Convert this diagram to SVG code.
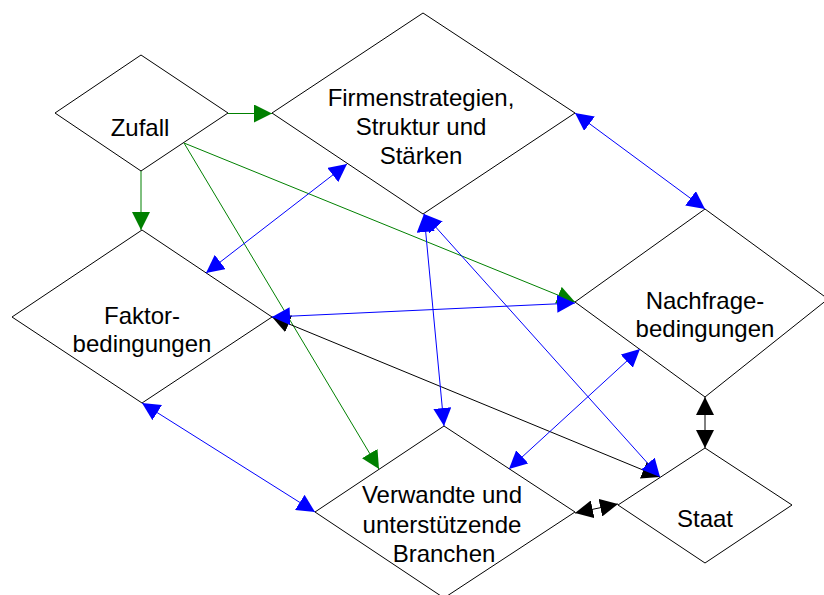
<svg xmlns="http://www.w3.org/2000/svg" width="824" height="595" viewBox="0 0 824 595">
<style>
.node polygon{fill:#fff;stroke:#000;stroke-width:1}
.node text{font-family:"Liberation Sans",Arial,sans-serif;font-size:24px;fill:#000;text-anchor:middle}
.g{stroke:#008000;stroke-width:1;fill:none}
.b{stroke:#0000ff;stroke-width:1;fill:none}
.k{stroke:#000;stroke-width:1;fill:none}
</style>
<defs>
<marker id="ag" markerUnits="userSpaceOnUse" markerWidth="18" markerHeight="18" refX="18" refY="9" orient="auto-start-reverse" viewBox="0 0 18 18"><path d="M0,0 L18,9 L0,18 z" fill="#008000"/></marker>
<marker id="ab" markerUnits="userSpaceOnUse" markerWidth="18" markerHeight="18" refX="18" refY="9" orient="auto-start-reverse" viewBox="0 0 18 18"><path d="M0,0 L18,9 L0,18 z" fill="#0000ff"/></marker>
<marker id="ak" markerUnits="userSpaceOnUse" markerWidth="18" markerHeight="18" refX="18" refY="9" orient="auto-start-reverse" viewBox="0 0 18 18"><path d="M0,0 L18,9 L0,18 z" fill="#000"/></marker>
</defs>
<rect width="824" height="595" fill="#fff"/>
<g id="zufall" class="node">
<polygon points="141,55 228,113 141,171 55,113"/>
<text x="140" y="136">Zufall</text>
</g>
<g id="firmen" class="node">
<polygon points="423,13 575,113 423,214 272,113"/>
<text x="421" y="106">Firmenstrategien,</text>
<text x="421" y="135">Struktur und</text>
<text x="421" y="164">Stärken</text>
</g>
<g id="faktor" class="node">
<polygon points="142,230 272,317 142,403 12,317"/>
<text x="142" y="324">Faktor-</text>
<text x="142" y="352">bedingungen</text>
</g>
<g id="nachfrage" class="node">
<polygon points="705,209 828,299 705,397 575,302"/>
<text x="705" y="309">Nachfrage-</text>
<text x="705" y="337">bedingungen</text>
</g>
<g id="verwandte" class="node">
<polygon points="444,426 575,512 444,598 315,512"/>
<text x="442" y="503">Verwandte und</text>
<text x="442" y="533">unterstützende</text>
<text x="444" y="562">Branchen</text>
</g>
<g id="staat" class="node">
<polygon points="705,448 792,505 705,563 618,505"/>
<text x="705" y="527">Staat</text>
</g>
<g id="connectors">
<line class="g" x1="228" y1="113.5" x2="272" y2="113.5" marker-end="url(#ag)"/>
<line class="g" x1="141" y1="171" x2="141" y2="230" marker-end="url(#ag)"/>
<line class="g" x1="184" y1="143" x2="379" y2="469" marker-end="url(#ag)"/>
<line class="g" x1="184" y1="143" x2="575" y2="302" marker-end="url(#ag)"/>
<line class="b" x1="206" y1="273" x2="347" y2="164" marker-start="url(#ab)" marker-end="url(#ab)"/>
<line class="b" x1="575" y1="113" x2="705" y2="209" marker-start="url(#ab)" marker-end="url(#ab)"/>
<line class="k" x1="272" y1="317" x2="660" y2="477" marker-start="url(#ak)" marker-end="url(#ak)"/>
<line class="b" x1="272" y1="317" x2="575" y2="303" marker-start="url(#ab)" marker-end="url(#ab)"/>
<line class="b" x1="424" y1="214" x2="444" y2="426" marker-start="url(#ab)" marker-end="url(#ab)"/>
<line class="b" x1="424" y1="214" x2="660" y2="477" marker-start="url(#ab)" marker-end="url(#ab)"/>
<line class="b" x1="509" y1="469" x2="640" y2="349" marker-start="url(#ab)" marker-end="url(#ab)"/>
<line class="b" x1="142" y1="403" x2="315" y2="512" marker-start="url(#ab)" marker-end="url(#ab)"/>
<line class="k" x1="705" y1="397" x2="705" y2="448" marker-start="url(#ak)" marker-end="url(#ak)"/>
<line class="k" x1="575" y1="513" x2="618" y2="504" marker-start="url(#ak)" marker-end="url(#ak)"/>
</g>
</svg>
